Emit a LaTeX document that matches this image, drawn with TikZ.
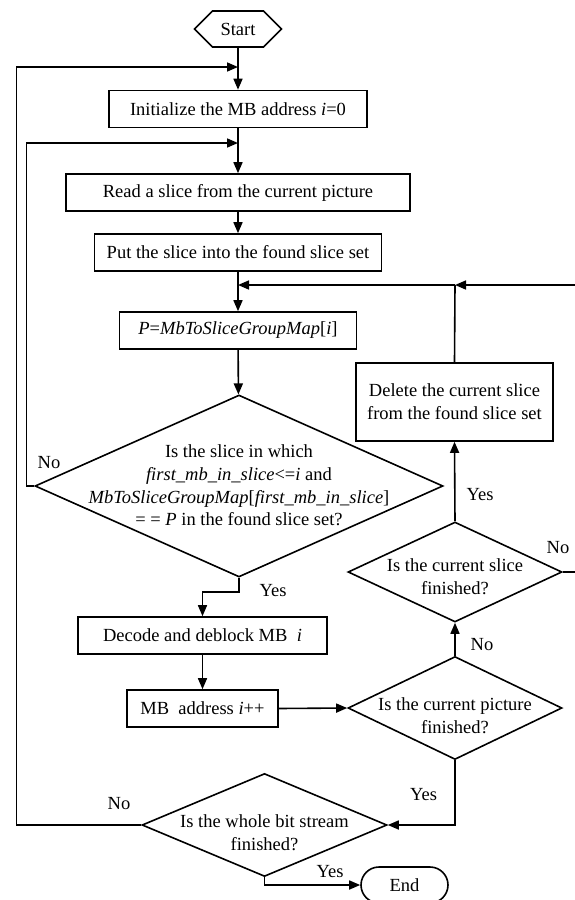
\documentclass[tikz,border=0pt]{standalone}
\usepackage{fontspec}
\setmainfont{Liberation Serif}
\usetikzlibrary{shapes.geometric}
\usetikzlibrary{shapes.symbols}
\usetikzlibrary{shapes.misc}
\usetikzlibrary{arrows.meta}

\tikzset{
  proc/.style={draw, line width=1.6pt, rectangle, inner sep=0pt, minimum height=37pt},
  decis/.style={draw, line width=1.6pt, diamond, inner sep=0pt},
  lbl/.style={inner sep=0.75pt},
  flow/.style={line width=1.6pt},
  arr/.style={line width=1.6pt, -{Triangle[length=11pt,width=9pt]}},
}

\begin{document}
\begin{tikzpicture}[x=1pt,y=1pt,yscale=-1,xscale=1,font=\fontsize{18.5}{22.7}\selectfont]
\useasboundingbox (0,0) rectangle (575,900);

%Flowchart: Terminator
\node [draw, line width=1.6pt, signal, signal to=west and east, signal pointer angle=90, inner sep=0pt, minimum width=87pt, minimum height=36pt] (start) at (238,29) {Start};
%Flowchart: Process
\node [proc, minimum width=258pt] (init) at (238,109) {Initialize the MB address \textit{i}=0};
%Flowchart: Process
\node [proc, minimum width=344pt] (read) at (238,192.5) {Read a slice from the current picture};
%Flowchart: Process
\node [proc, minimum width=287pt] (put) at (238,252.5) {Put the slice into the found slice set};
%Flowchart: Process
\node [proc, minimum width=237pt] (pmap) at (238,330.5) {\textit{P}=\textit{MbToSliceGroupMap}[\textit{i}]};
%Flowchart: Decision
\node [decis, minimum width=408pt, minimum height=182pt] (qfind) at (239,486) {};
%Flowchart: Process
\node [proc, minimum width=249pt] (decode) at (202.5,635.5) {Decode and deblock MB~~\textit{i}};
%Flowchart: Process
\node [proc, minimum width=151pt] (incr) at (202.5,708.5) {MB~~address \textit{i}++};
%Flowchart: Decision
\node [decis, minimum width=214pt, minimum height=103pt] (qpic) at (455,708) {};
%Flowchart: Decision
\node [decis, minimum width=214pt, minimum height=100pt] (qslice) at (455,572) {};
%Flowchart: Process
\node [proc, minimum width=197pt, minimum height=78pt, align=center] (del) at (454.5,402) {Delete the current slice\\from the found slice set};
%Flowchart: Decision
\node [decis, minimum width=245pt, minimum height=103pt] (qend) at (264.5,825) {};
%Flowchart: Terminator
\node [draw, line width=1.6pt, rounded rectangle, inner sep=0pt, minimum width=87pt, minimum height=36pt] (end) at (404.5,885) {End};

%Free ends
\coordinate (j1) at (455,285);
\coordinate (j0) at (238,285);
\coordinate (lpa) at (238,67);
\coordinate (lpb) at (238,143);

%Straight Lines
\draw [arr] (start) -- (init);
\draw [arr] (init) -- (read);
\draw [arr] (read) -- (put);
\draw [arr] (put) -- (pmap);
\draw [arr] (pmap) -- (qfind);
\draw [arr] (j1) -- (j0);
\draw [flow] (del.north) -- (j1);
\draw [arr] (qslice.east) -- (579,572) -- (579,285) -- (j1);
\draw [arr] (qfind.west) -- (26.5,486) -- (26.5,143) -- (lpb);
\draw [arr] (qend.west) -- (16.5,825) -- (16.5,67) -- (lpa);
\draw [arr] (qfind.south) -- (239,592) -- (202.5,592) -- (decode.north);
\draw [arr] (decode) -- (incr);
\draw [arr] (incr.east) -- (qpic.west);
\draw [arr] (qpic.north) -- (qslice.south);
\draw [arr] (qslice.north) -- (del.south);
\draw [arr] (qpic.south) -- (455,825) -- (qend.east);
\draw [arr] (qend.south) -- (264.5,885) -- (end.west);

% Text Node
\node [lbl, align=center] (tfind) at (239,485.5) {Is the slice in which\\\textit{first\_mb\_in\_slice}<=\textit{i} and\\\textit{MbToSliceGroupMap}[\textit{first\_mb\_in\_slice}]\\= = \textit{P} in the found slice set?};
% Text Node
\node [lbl, align=center] (tslice) at (455,577) {Is the current slice\\finished?};
% Text Node
\node [lbl, align=center] (tpic) at (455,716) {Is the current picture\\finished?};
% Text Node
\node [lbl, align=center] (tend) at (264.5,832.5) {Is the whole bit stream\\finished?};
% Text Node
\node [lbl] (no1) at (49,463) {No};
% Text Node
\node [lbl] (yes1) at (273,591) {Yes};
% Text Node
\node [lbl] (yes2) at (480,495) {Yes};
% Text Node
\node [lbl] (no2) at (558,548) {No};
% Text Node
\node [lbl] (no3) at (482,645) {No};
% Text Node
\node [lbl] (yes3) at (423.5,795) {Yes};
% Text Node
\node [lbl] (no4) at (119,804) {No};
% Text Node
\node [lbl] (yes4) at (330,872) {Yes};

\end{tikzpicture}
\end{document}
